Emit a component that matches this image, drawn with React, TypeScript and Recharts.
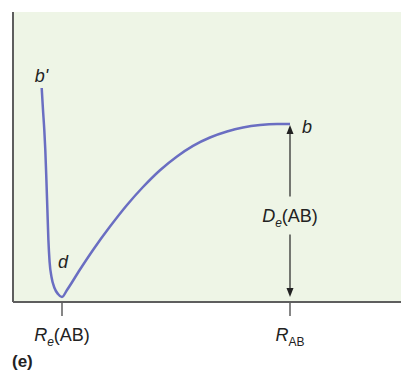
import React from 'react';
import { ComposedChart, Line, XAxis, YAxis, CartesianGrid, ReferenceLine, ReferenceDot } from 'recharts';

// Internuclear distance R (arbitrary units) and potential energy E (arbitrary units)
const rValues = [28.7, 30, 31.3, 32.3, 33.4, 34.4, 35.4, 36.6, 38.5, 41.5, 45, 49, 54, 67, 80, 97, 114, 130, 147, 164, 180, 197, 214, 230, 247, 264, 277];
const energyValues = [214, 192, 172, 152, 122, 92, 62, 40, 25, 14, 8, 5, 12, 32.5, 52, 75.4, 97, 115, 131.8, 145.6, 156.2, 164.5, 170.5, 174.5, 177, 178, 178];

// Equilibrium distance and the distance where the bond is considered broken
const R_EQ = 49;
const R_AB = 277;
const E_MIN = 5;
const E_B = 178;

const tickValues = [R_EQ, R_AB];
const tickMain = ['R', 'R'];
const tickSub = ['e', 'AB'];
const tickRest = ['(AB)', ''];

const FONT = '"Liberation Sans", Arial, sans-serif';
const CURVE = '#6a6ec2';
const INK = '#222';

type Point = { r: number, energy: number };

const data: Point[] = rValues.map((r, i) => ({ r, energy: energyValues[i] }));

function DistanceTick(props: any) {
    const { x, y, index } = props;
    return (
        <text x={x} y={y + 25} textAnchor="middle" fontFamily={FONT} fontSize={18} fill={INK}>
            <tspan fontStyle="italic">{tickMain[index]}</tspan>
            <tspan fontSize={12} dy={5} fontStyle={index === 0 ? 'italic' : 'normal'}>{tickSub[index]}</tspan>
            {tickRest[index] && <tspan dy={-5}>{tickRest[index]}</tspan>}
        </text>
    );
}

// Double arrow for the dissociation energy with the label in the gap
function DissociationArrow(props: any) {
    const { x1, y1, y2 } = props;
    const top = Math.min(y1, y2);
    const bottom = Math.max(y1, y2);
    const mid = (top + bottom) / 2;
    const x = x1;
    return (
        <g>
            <line x1={x} y1={top + 8} x2={x} y2={mid - 14} stroke={INK} strokeWidth={1.2} />
            <line x1={x} y1={mid + 24} x2={x} y2={bottom - 8} stroke={INK} strokeWidth={1.2} />
            <polygon points={`${x},${top + 1} ${x - 3.5},${top + 10} ${x + 3.5},${top + 10}`} fill={INK} />
            <polygon points={`${x},${bottom} ${x - 3.5},${bottom - 9} ${x + 3.5},${bottom - 9}`} fill={INK} />
            <text x={x} y={mid + 11} textAnchor="middle" fontFamily={FONT} fontSize={18} fill={INK}>
                <tspan fontStyle="italic">D</tspan>
                <tspan fontSize={12} dy={5} fontStyle="italic">e</tspan>
                <tspan dy={-5}>(AB)</tspan>
            </text>
        </g>
    );
}

function pointLabel(text: string, dx: number, dy: number) {
    return (props: any) => (
        <text x={props.cx + dx} y={props.cy + dy} fontFamily={FONT} fontSize={18} fontStyle="italic" fill={INK}>
            {text}
        </text>
    );
}

function App() {
    return (
        <div style={{ position: 'absolute', left: 0, top: 0, width: 401, height: 371 }}>
            <ComposedChart
                width={401}
                height={371}
                data={data}
                margin={{ top: 12, right: 0, bottom: 29, left: 0 }}
            >
                <CartesianGrid horizontal={false} vertical={false} fill="#eef5e6" />
                <XAxis
                    dataKey="r"
                    type="number"
                    domain={[0, 388]}
                    ticks={tickValues}
                    height={40}
                    tickSize={14}
                    tickMargin={0}
                    tick={<DistanceTick />}
                    axisLine={{ stroke: '#5e5e5e', strokeWidth: 2 }}
                    tickLine={{ stroke: '#5e5e5e', strokeWidth: 1.5 }}
                    allowDataOverflow
                />
                <YAxis
                    type="number"
                    domain={[0, 290]}
                    width={13}
                    tick={false}
                    tickLine={false}
                    axisLine={{ stroke: '#5e5e5e', strokeWidth: 2 }}
                    allowDataOverflow
                />
                <Line
                    dataKey="energy"
                    type="monotone"
                    stroke={CURVE}
                    strokeWidth={2.5}
                    dot={false}
                    isAnimationActive={false}
                />
                <ReferenceLine
                    segment={[{ x: R_AB, y: E_MIN }, { x: R_AB, y: E_B }]}
                    shape={DissociationArrow}
                />
                <ReferenceDot x={rValues[0]} y={energyValues[0]} shape={pointLabel("b'", -7, -6)} />
                <ReferenceDot x={R_EQ} y={E_MIN} shape={pointLabel('d', -4, -29)} />
                <ReferenceDot x={R_AB} y={E_B} shape={pointLabel('b', 12, 9)} />
            </ComposedChart>
            <div style={{ position: 'absolute', left: 12, top: 352, fontFamily: FONT, fontSize: 17, fontWeight: 'bold', color: INK }}>
                (e)
            </div>
        </div>
    );
}

export default App;
